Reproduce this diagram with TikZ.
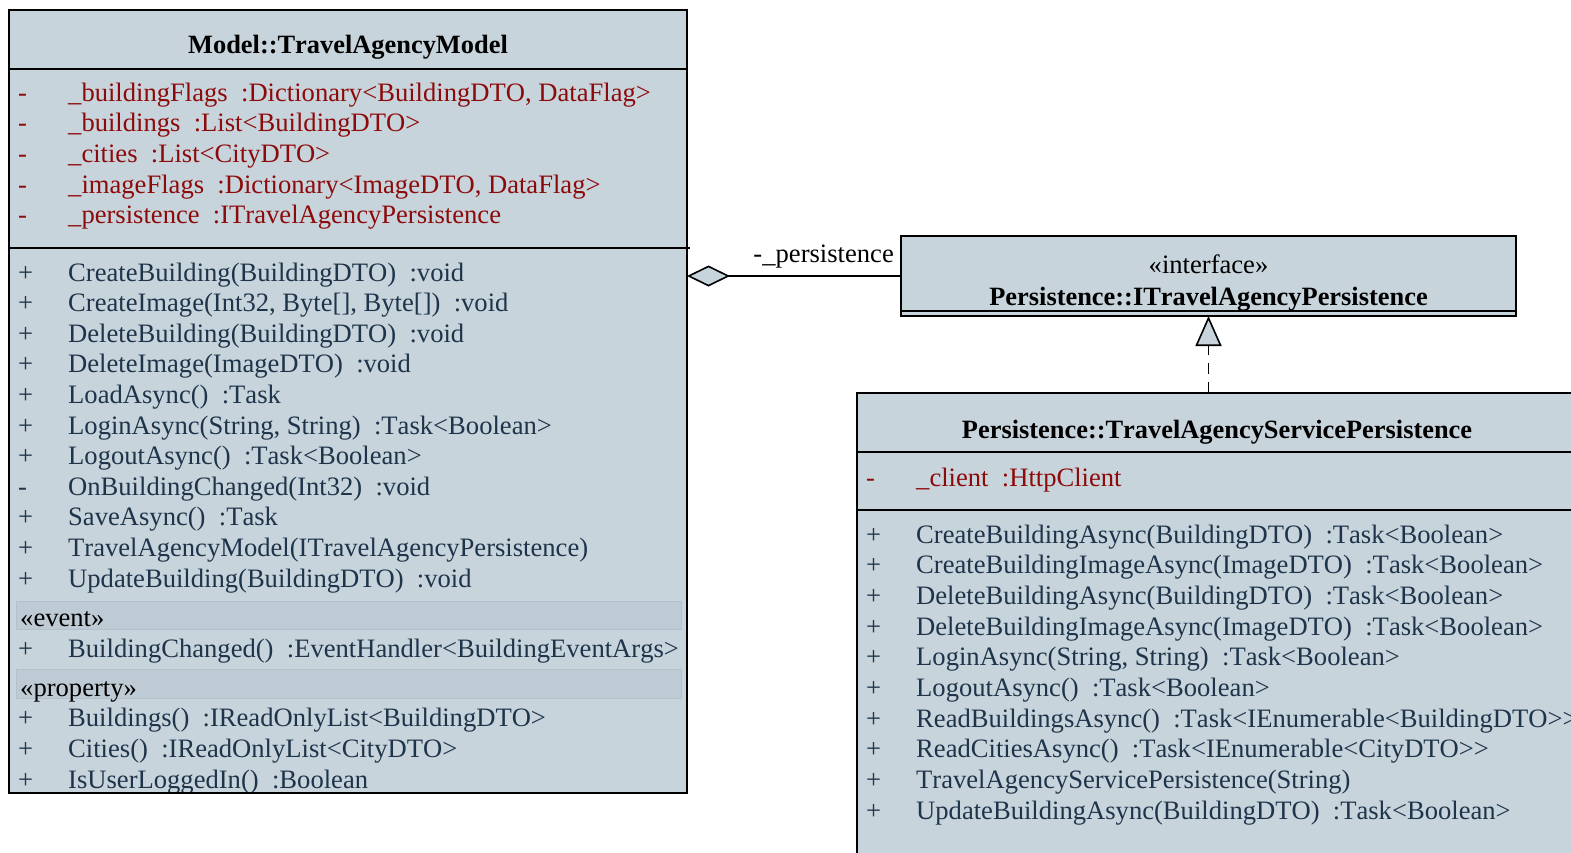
\documentclass[tikz,border=0pt]{standalone}
\usepackage{fontspec}
\setmainfont{Liberation Serif}[Kerning=Off]
\usetikzlibrary{arrows.meta}
\definecolor{boxfill}{RGB}{200,212,220}
\definecolor{bandfill}{RGB}{190,203,212}
\definecolor{bandline}{RGB}{178,193,204}
\definecolor{optext}{RGB}{30,52,74}
\definecolor{attrred}{RGB}{140,10,10}
\newcommand{\gp}{\hspace{0.5em}}
\newcommand{\rowL}[5]{\node[#2] (#1s) at (18,#3) {#4}; \node[#2] (#1) at (68,#3) {#5};}
\newcommand{\rowR}[5]{\node[#2] (#1s) at (866,#3) {#4}; \node[#2] (#1) at (916,#3) {#5};}
\tikzset{
  classbox/.style={draw=black, line width=1.6pt, fill=boxfill, inner sep=0pt, outer sep=0pt, anchor=north west},
  txt/.style={inner sep=0pt, anchor=base west, font=\fontsize{26.6}{30}\selectfont},
  attr/.style={txt, text=attrred},
  op/.style={txt, text=optext},
  stereo/.style={txt, text=black},
  ctitle/.style={inner sep=0pt, anchor=base, font=\fontsize{26.4}{30}\selectfont\bfseries},
  sepline/.style={line width=1.6pt},
  band/.style={fill=bandfill, draw=bandline, line width=1pt},
  conn/.style={line width=1.6pt, draw=black},
}
\begin{document}
\begin{tikzpicture}[x=1pt,y=-1pt]
\useasboundingbox (0,0) rectangle (1571,852);
\clip (0,0) rectangle (1571,852);

% ---------- Model::TravelAgencyModel ----------
\node[classbox, minimum width=678pt, minimum height=783pt] (model) at (9,10) {};
\draw[sepline] (9,69) -- (687,69);
\draw[sepline] (9,248) -- (690,248);
\draw[band] (16,601) rectangle (681,629);
\draw[band] (16,669) rectangle (681,698);
\node[ctitle] (mtitle) at (348,53) {Model::TravelAgencyModel};

\rowL{ma1}{attr}{101}{-}{\_buildingFlags\gp:Dictionary<BuildingDTO, DataFlag>}
\rowL{ma2}{attr}{131.7}{-}{\_buildings\gp:List<BuildingDTO>}
\rowL{ma3}{attr}{162.4}{-}{\_cities\gp:List<CityDTO>}
\rowL{ma4}{attr}{193.1}{-}{\_imageFlags\gp:Dictionary<ImageDTO, DataFlag>}
\rowL{ma5}{attr}{223.8}{-}{\_persistence\gp:ITravelAgencyPersistence}

\rowL{mo1}{op}{281}{+}{CreateBuilding(BuildingDTO)\gp:void}
\rowL{mo2}{op}{311.6}{+}{CreateImage(Int32, Byte[], Byte[])\gp:void}
\rowL{mo3}{op}{342.2}{+}{DeleteBuilding(BuildingDTO)\gp:void}
\rowL{mo4}{op}{372.8}{+}{DeleteImage(ImageDTO)\gp:void}
\rowL{mo5}{op}{403.4}{+}{LoadAsync()\gp:Task}
\rowL{mo6}{op}{434}{+}{LoginAsync(String, String)\gp:Task<Boolean>}
\rowL{mo7}{op}{464.6}{+}{LogoutAsync()\gp:Task<Boolean>}
\rowL{mo8}{op}{495.2}{-}{OnBuildingChanged(Int32)\gp:void}
\rowL{mo9}{op}{525.8}{+}{SaveAsync()\gp:Task}
\rowL{mo10}{op}{556.4}{+}{TravelAgencyModel(ITravelAgencyPersistence)}
\rowL{mo11}{op}{587}{+}{UpdateBuilding(BuildingDTO)\gp:void}

\node[stereo] (mev) at (20,626) {«event»};
\rowL{me1}{op}{657}{+}{BuildingChanged()\gp:EventHandler<BuildingEventArgs>}
\node[stereo] (mprop) at (20,696) {«property»};
\rowL{mp1}{op}{726}{+}{Buildings()\gp:IReadOnlyList<BuildingDTO>}
\rowL{mp2}{op}{757}{+}{Cities()\gp:IReadOnlyList<CityDTO>}
\rowL{mp3}{op}{788}{+}{IsUserLoggedIn()\gp:Boolean}
\draw[line width=1.6pt] (9,793) -- (687,793);

% ---------- Persistence::ITravelAgencyPersistence ----------
\node[classbox, minimum width=615pt, minimum height=80pt] (iface) at (901,236) {};
\draw[line width=1.2pt] (901,311) -- (1516,311);
\node[stereo, anchor=base] (istereo) at (1208.5,273) {«interface»};
\node[ctitle] (ititle) at (1208.5,305) {Persistence::ITravelAgencyPersistence};

% ---------- Persistence::TravelAgencyServicePersistence ----------
\node[classbox, minimum width=721pt, minimum height=520pt] (svc) at (857,393) {};
\draw[sepline] (857,452) -- (1578,452);
\draw[sepline] (857,510) -- (1578,510);
\node[ctitle] (stitle) at (1217,438) {Persistence::TravelAgencyServicePersistence};
\rowR{sa1}{attr}{486}{-}{\_client\gp:HttpClient}
\rowR{so1}{op}{543}{+}{CreateBuildingAsync(BuildingDTO)\gp:Task<Boolean>}
\rowR{so2}{op}{573.7}{+}{CreateBuildingImageAsync(ImageDTO)\gp:Task<Boolean>}
\rowR{so3}{op}{604.4}{+}{DeleteBuildingAsync(BuildingDTO)\gp:Task<Boolean>}
\rowR{so4}{op}{635.1}{+}{DeleteBuildingImageAsync(ImageDTO)\gp:Task<Boolean>}
\rowR{so5}{op}{665.8}{+}{LoginAsync(String, String)\gp:Task<Boolean>}
\rowR{so6}{op}{696.5}{+}{LogoutAsync()\gp:Task<Boolean>}
\rowR{so7}{op}{727.2}{+}{ReadBuildingsAsync()\gp:Task<IEnumerable<BuildingDTO>{}>}
\rowR{so8}{op}{757.9}{+}{ReadCitiesAsync()\gp:Task<IEnumerable<CityDTO>{}>}
\rowR{so9}{op}{788.6}{+}{TravelAgencyServicePersistence(String)}
\rowR{so10}{op}{819.3}{+}{UpdateBuildingAsync(BuildingDTO)\gp:Task<Boolean>}

% ---------- connectors ----------
\draw[conn, {Diamond[length=43pt,width=21pt,fill=boxfill]}-] (model.east |- iface.west) -- (iface.west);
\node[stereo, anchor=base east] (plabel) at (894,262) {-\_persistence};
\draw[conn, dash pattern=on 11pt off 8pt, -{Triangle[length=30pt,width=26pt,fill=boxfill]}] (iface.south |- svc.north) -- (iface.south);
\end{tikzpicture}
\end{document}
